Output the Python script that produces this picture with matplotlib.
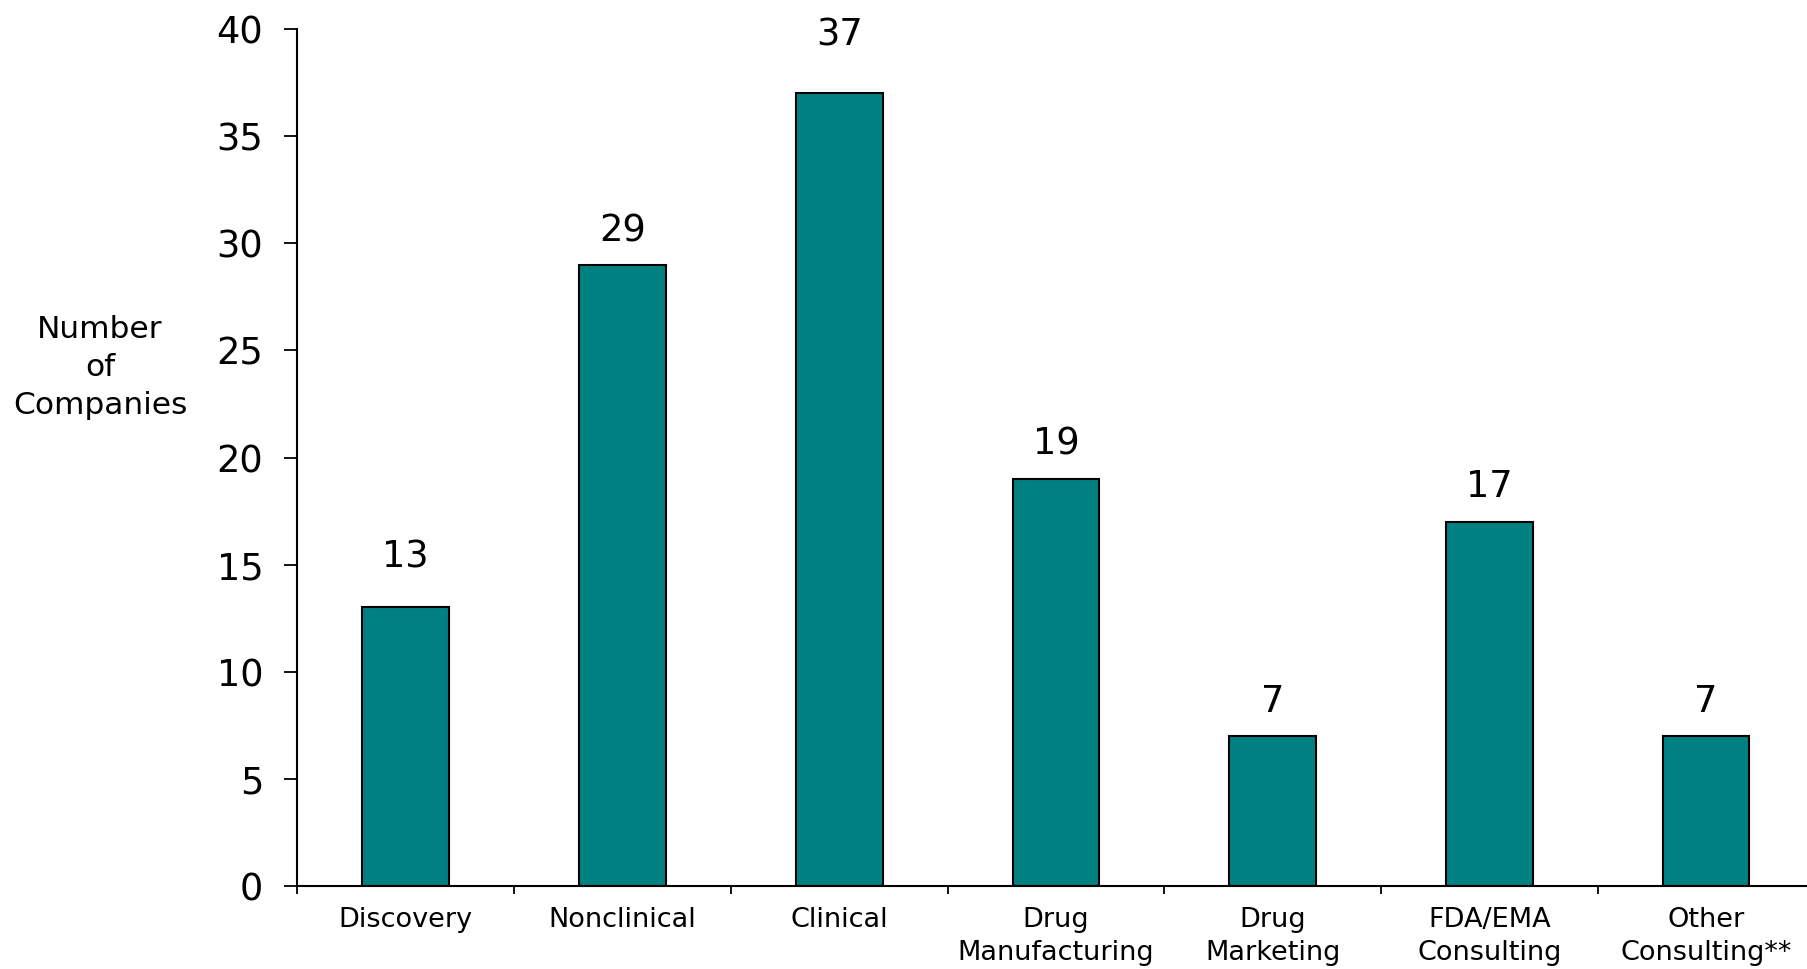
import numpy as np
import matplotlib
matplotlib.use("Agg")
import matplotlib.pyplot as plt

# data
categories = ["Discovery", "Nonclinical", "Clinical", "Drug\nManufacturing",
              "Drug\nMarketing", "FDA/EMA\nConsulting", "Other\nConsulting**"]
companies = [13, 29, 37, 19, 7, 17, 7]
y_ticks = [0, 5, 10, 15, 20, 25, 30, 35, 40]

# label gap above each bar, in points (a couple were nudged in the original)
label_gap = [29, 17, 34.5, 17.5, 17.5, 17.5, 17.5]

plt.rcParams["font.family"] = ["DejaVu Sans"]

fig = plt.figure(figsize=(18.08, 9.69), dpi=100)
ax = fig.add_axes([0.1645, 0.0857, 0.8355, 0.8843])

x = np.arange(len(categories))
ax.bar(x, companies, width=0.4, color="#008080", edgecolor="black", linewidth=1.5)

# value labels above the bars
for xi, v, g in zip(x, companies, label_gap):
    ax.annotate(str(v), (xi, v), xytext=(0, g), textcoords="offset points",
                ha="center", va="baseline", fontsize=26.5)

ax.set_ylim(0, 40)
ax.set_xlim(-0.5, 6.47)
ax.set_yticks(y_ticks)
ax.tick_params(axis="y", labelsize=26.5, length=9.5, width=1.3, pad=15)

# category labels centred under bars, tick marks between categories
ax.set_xticks(x)
ax.set_xticklabels(categories, fontsize=19.5, linespacing=1.38)
ax.set_xticks(np.arange(len(categories)) + 0.5 - 1, minor=True)
ax.tick_params(axis="x", which="major", length=0, pad=15)
ax.tick_params(axis="x", which="minor", length=6, width=1.3)

for side in ["top", "right"]:
    ax.spines[side].set_visible(False)
ax.spines["left"].set_linewidth(1.5)
ax.spines["bottom"].set_linewidth(1.5)

fig.text(100 / 1808, 0.621, "Number\nof\nCompanies", ha="center", va="center",
         fontsize=22.5, multialignment="center", linespacing=1.39)

fig.savefig("out.png", dpi=100)
